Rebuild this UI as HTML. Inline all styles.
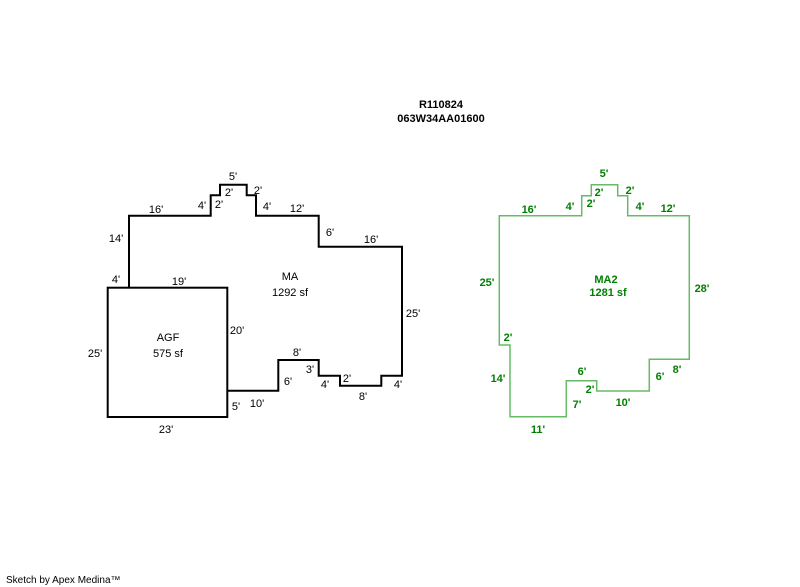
<!DOCTYPE html>
<html><head><meta charset="utf-8"><style>
html,body{margin:0;padding:0;background:#fff;width:800px;height:587px;overflow:hidden}
svg{display:block}
text{font-family:"Liberation Sans",Arial,sans-serif;font-size:11px}
.k text{fill:#000;text-anchor:middle}
.g text{fill:#008000;font-weight:bold;text-anchor:middle}
</style></head><body>
<svg width="800" height="587" viewBox="0 0 800 587">
<text x="441" y="108" text-anchor="middle" font-weight="bold">R110824</text>
<text x="441" y="122" text-anchor="middle" font-weight="bold">063W34AA01600</text>
<text x="6" y="583" font-size="10" style="font-size:10px">Sketch by Apex Medina™</text>

<polyline fill="none" stroke="#000" stroke-width="2" points="129,288 129,215.7 210.7,215.7 210.7,195.3 220,195.3 220,184.7 246.7,184.7 246.7,195.3 256,195.3 256,215.7 318.7,215.7 318.7,246.7 402,246.7 402,375.7 381.3,375.7 381.3,385.7 340,385.7 340,375.7 318.7,375.7 318.7,360 278.3,360 278.3,390.7 227.3,390.7"/>
<rect x="107.7" y="287.7" width="119.6" height="129.3" fill="none" stroke="#000" stroke-width="2"/>

<g class="k">
<text x="233" y="180">5'</text><text x="229" y="196">2'</text><text x="258" y="194">2'</text>
<text x="202" y="209">4'</text><text x="219" y="208">2'</text><text x="267" y="210">4'</text>
<text x="156" y="213">16'</text><text x="297" y="212">12'</text><text x="116" y="242">14'</text>
<text x="330" y="236">6'</text><text x="371" y="243">16'</text><text x="116" y="283">4'</text>
<text x="179" y="285">19'</text><text x="290" y="280">MA</text><text x="290" y="296">1292 sf</text>
<text x="413" y="317">25'</text><text x="168" y="341">AGF</text><text x="168" y="357">575 sf</text>
<text x="95" y="357">25'</text><text x="237" y="334">20'</text><text x="297" y="356">8'</text>
<text x="310" y="373">3'</text><text x="288" y="385">6'</text><text x="347" y="382">2'</text>
<text x="325" y="388">4'</text><text x="398" y="388">4'</text><text x="363" y="400">8'</text>
<text x="257" y="407">10'</text><text x="236" y="410">5'</text><text x="166" y="433">23'</text>
</g>

<polygon fill="none" stroke="#66bb66" stroke-width="1.5" points="499.3,215.7 581.7,215.7 581.7,195.7 591.3,195.7 591.3,184.7 617.7,184.7 617.7,195.7 627.7,195.7 627.7,215.7 689.3,215.7 689.3,359.3 649.3,359.3 649.3,391 596.7,391 596.7,380.7 566.3,380.7 566.3,416.7 510,416.7 510,345 499.3,345"/>
<g class="g">
<text x="604" y="177">5'</text><text x="599" y="196">2'</text><text x="630" y="194">2'</text>
<text x="570" y="210">4'</text><text x="591" y="207">2'</text><text x="640" y="210">4'</text>
<text x="529" y="213">16'</text><text x="668" y="212">12'</text><text x="606" y="283">MA2</text>
<text x="608" y="296">1281 sf</text><text x="487" y="286">25'</text><text x="702" y="292">28'</text>
<text x="508" y="341">2'</text><text x="498" y="382">14'</text><text x="582" y="375">6'</text>
<text x="677" y="373">8'</text><text x="660" y="380">6'</text><text x="590" y="393">2'</text>
<text x="577" y="408">7'</text><text x="623" y="406">10'</text><text x="538" y="433">11'</text>
</g>
</svg>
</body></html>
